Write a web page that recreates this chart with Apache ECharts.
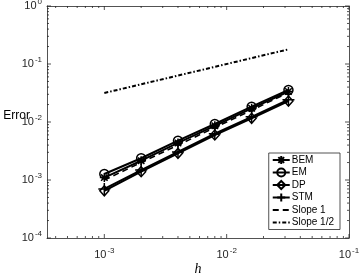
<!DOCTYPE html>
<html><head><meta charset="utf-8">
<script src="https://cdn.jsdelivr.net/npm/echarts@6/dist/echarts.min.js"></script>
<style>html,body{margin:0;padding:0;background:#fff}#c{width:361px;height:273px}</style>
</head><body><div id="c"></div>
<script>
// ---- data ----
var h      = [0.001, 0.002, 0.004, 0.008, 0.016, 0.032];
var BEM    = [1.1e-3, 2.15e-3, 4.35e-3, 8.6e-3, 1.72e-2, 3.35e-2];
var EM     = [1.27e-3, 2.37e-3, 4.76e-3, 9.24e-3, 1.84e-2, 3.56e-2];
var DP     = [6.5e-4, 1.39e-3, 2.88e-3, 5.97e-3, 1.16e-2, 2.30e-2];
var STM    = [7.0e-4, 1.48e-3, 3.05e-3, 6.3e-3, 1.23e-2, 2.42e-2];
var slope1 = [0.001, 0.002, 0.004, 0.008, 0.016, 0.032];
var slopeHalf = [0.0316, 0.0447, 0.0632, 0.0894, 0.1265, 0.1789];
var seriesNames = ['BEM', 'EM', 'DP', 'STM', 'Slope 1', 'Slope 1/2'];
var xMajorTicks = [0.001, 0.01, 0.1];
var yMajorTicks = [0.0001, 0.001, 0.01, 0.1, 1];
var minorMultipliers = [2, 3, 4, 5, 6, 7, 8, 9];
var xMin = 3.4e-4, xMax = 0.1, yMin = 1e-4, yMax = 1;

var xMinorTicks = [], yMinorTicks = [];
[1e-4, 1e-3, 1e-2].forEach(function (d) {
  minorMultipliers.forEach(function (m) { var v = d * m; if (v > xMin && v < xMax) xMinorTicks.push(v); });
});
[1e-4, 1e-3, 1e-2, 1e-1].forEach(function (d) {
  minorMultipliers.forEach(function (m) { yMinorTicks.push(d * m); });
});
var tickList = [];
xMajorTicks.forEach(function (v) { tickList.push({ax: 'x', v: v, len: 4}); });
xMinorTicks.forEach(function (v) { tickList.push({ax: 'x', v: v, len: 2}); });
yMajorTicks.forEach(function (v) { tickList.push({ax: 'y', v: v, len: 4}); });
yMinorTicks.forEach(function (v) { tickList.push({ax: 'y', v: v, len: 2}); });

var axisColor = '#262626';
var isPow10 = function (v) { var l = Math.log10(v); return Math.abs(l - Math.round(l)) < 1e-6; };
var powLabel = function (v) {
  if (!isPow10(v)) return '';
  return '{b|10}{s|' + Math.round(Math.log10(v)) + '}';
};
var richLbl = {
  b: {fontSize: 11, fontFamily: 'Liberation Sans', color: '#262626'},
  s: {fontSize: 8, fontFamily: 'Liberation Sans', color: '#262626', padding: [0, 0, 8, 1]}
};

var P = {
  ast: 'path://M0,-5L0,5M-5,0L5,0M-3.6,-3.6L3.6,3.6M-3.6,3.6L3.6,-3.6',
  dia: 'path://M0,-5L4.5,0L0,5L-4.5,0Z',
  plus: 'path://M0,-6L0,6M-6,0L6,0'
};
function mk(x, y) { return x.map(function (v, i) { return [v, y[i]]; }); }
function lineSeries(name, ys, symbol, size, lt, lw) {
  var noSym = symbol === 'none';
  return {
    name: name, type: 'line', data: mk(h, ys), symbol: symbol, symbolSize: size,
    showSymbol: !noSym,
    lineStyle: {color: '#000', width: lw, type: lt},
    itemStyle: noSym ? {color: 'rgba(0,0,0,0)', borderWidth: 0}
                     : {color: 'rgba(0,0,0,0)', borderColor: '#000', borderWidth: 1.5},
    emphasis: {disabled: true}, animation: false, z: 3
  };
}

var chart = echarts.init(document.getElementById('c'), null, {renderer: 'canvas'});
chart.setOption({
  animation: false,
  backgroundColor: '#fff',
  grid: {left: 47, right: 12, top: 6, bottom: 35, containLabel: false, outerBoundsMode: 'none'},
  legend: {
    orient: 'vertical', right: 21, top: 153,
    data: seriesNames,
    itemWidth: 17, itemHeight: 10, itemGap: 2.5,
    padding: [2, 6, 2, 3],
    borderColor: axisColor, borderWidth: 0.8, backgroundColor: '#fff',
    textStyle: {fontSize: 10, fontFamily: 'Liberation Sans', color: '#000', padding: [0, 0, 0, -3]}
  },
  xAxis: [{
    type: 'log', logBase: 10, min: xMin, max: xMax,
    name: 'h', nameLocation: 'middle', nameGap: 24, nameMoveOverlap: false,
    nameTextStyle: {fontFamily: 'Liberation Serif', fontStyle: 'italic', fontSize: 14, color: '#000'},
    axisLine: {lineStyle: {color: axisColor, width: 0.8}},
    axisTick: {show: false}, splitLine: {show: false}, minorTick: {show: false},
    axisLabel: {formatter: powLabel, rich: richLbl, margin: 9, showMinLabel: true, showMaxLabel: true}
  }, {
    type: 'log', logBase: 10, min: xMin, max: xMax, position: 'top',
    axisLine: {lineStyle: {color: axisColor, width: 0.8}},
    axisTick: {show: false}, axisLabel: {show: false}, splitLine: {show: false}
  }],
  yAxis: [{
    type: 'log', logBase: 10, min: yMin, max: yMax,
    name: 'Error', nameLocation: 'middle', nameRotate: 0, nameGap: 17, nameMoveOverlap: false,
    nameTextStyle: {fontFamily: 'Liberation Sans', fontSize: 12, color: '#000', verticalAlign: 'bottom', align: 'right'},
    axisLine: {lineStyle: {color: axisColor, width: 0.8}},
    axisTick: {show: false}, splitLine: {show: false}, minorTick: {show: false},
    axisLabel: {formatter: powLabel, rich: richLbl, margin: 5}
  }, {
    type: 'log', logBase: 10, min: yMin, max: yMax, position: 'right',
    axisLine: {show: true, lineStyle: {color: axisColor, width: 0.8}},
    axisTick: {show: false}, axisLabel: {show: false}, splitLine: {show: false}
  }],
  series: [
    lineSeries('BEM', BEM, P.ast, 9, 'solid', 2),
    lineSeries('EM', EM, 'circle', 9, 'solid', 2),
    lineSeries('DP', DP, P.dia, [9, 10], 'solid', 2),
    lineSeries('STM', STM, P.plus, 12, 'solid', 2),
    lineSeries('Slope 1', slope1, 'none', 0, [6, 4], 1.6),
    lineSeries('Slope 1/2', slopeHalf, 'none', 0, [4, 2, 1.5, 2], 2),
    {
      type: 'custom', silent: true, z: 1, clip: false,
      data: tickList.map(function () { return [0.01, 0.01]; }),
      renderItem: function (params, api) {
        var t = tickList[params.dataIndex];
        var cs = params.coordSys;
        var st = {stroke: axisColor, lineWidth: 0.8};
        if (t.ax === 'x') {
          var x = api.coord([t.v, 0.01])[0];
          return {type: 'group', children: [
            {type: 'line', shape: {x1: x, y1: cs.y + cs.height, x2: x, y2: cs.y + cs.height - t.len}, style: st},
            {type: 'line', shape: {x1: x, y1: cs.y, x2: x, y2: cs.y + t.len}, style: st}
          ]};
        } else {
          var y = api.coord([0.01, t.v])[1];
          return {type: 'group', children: [
            {type: 'line', shape: {x1: cs.x, y1: y, x2: cs.x + t.len, y2: y}, style: st},
            {type: 'line', shape: {x1: cs.x + cs.width, y1: y, x2: cs.x + cs.width - t.len, y2: y}, style: st}
          ]};
        }
      }
    }
  ]
});
</script>
</body></html>
